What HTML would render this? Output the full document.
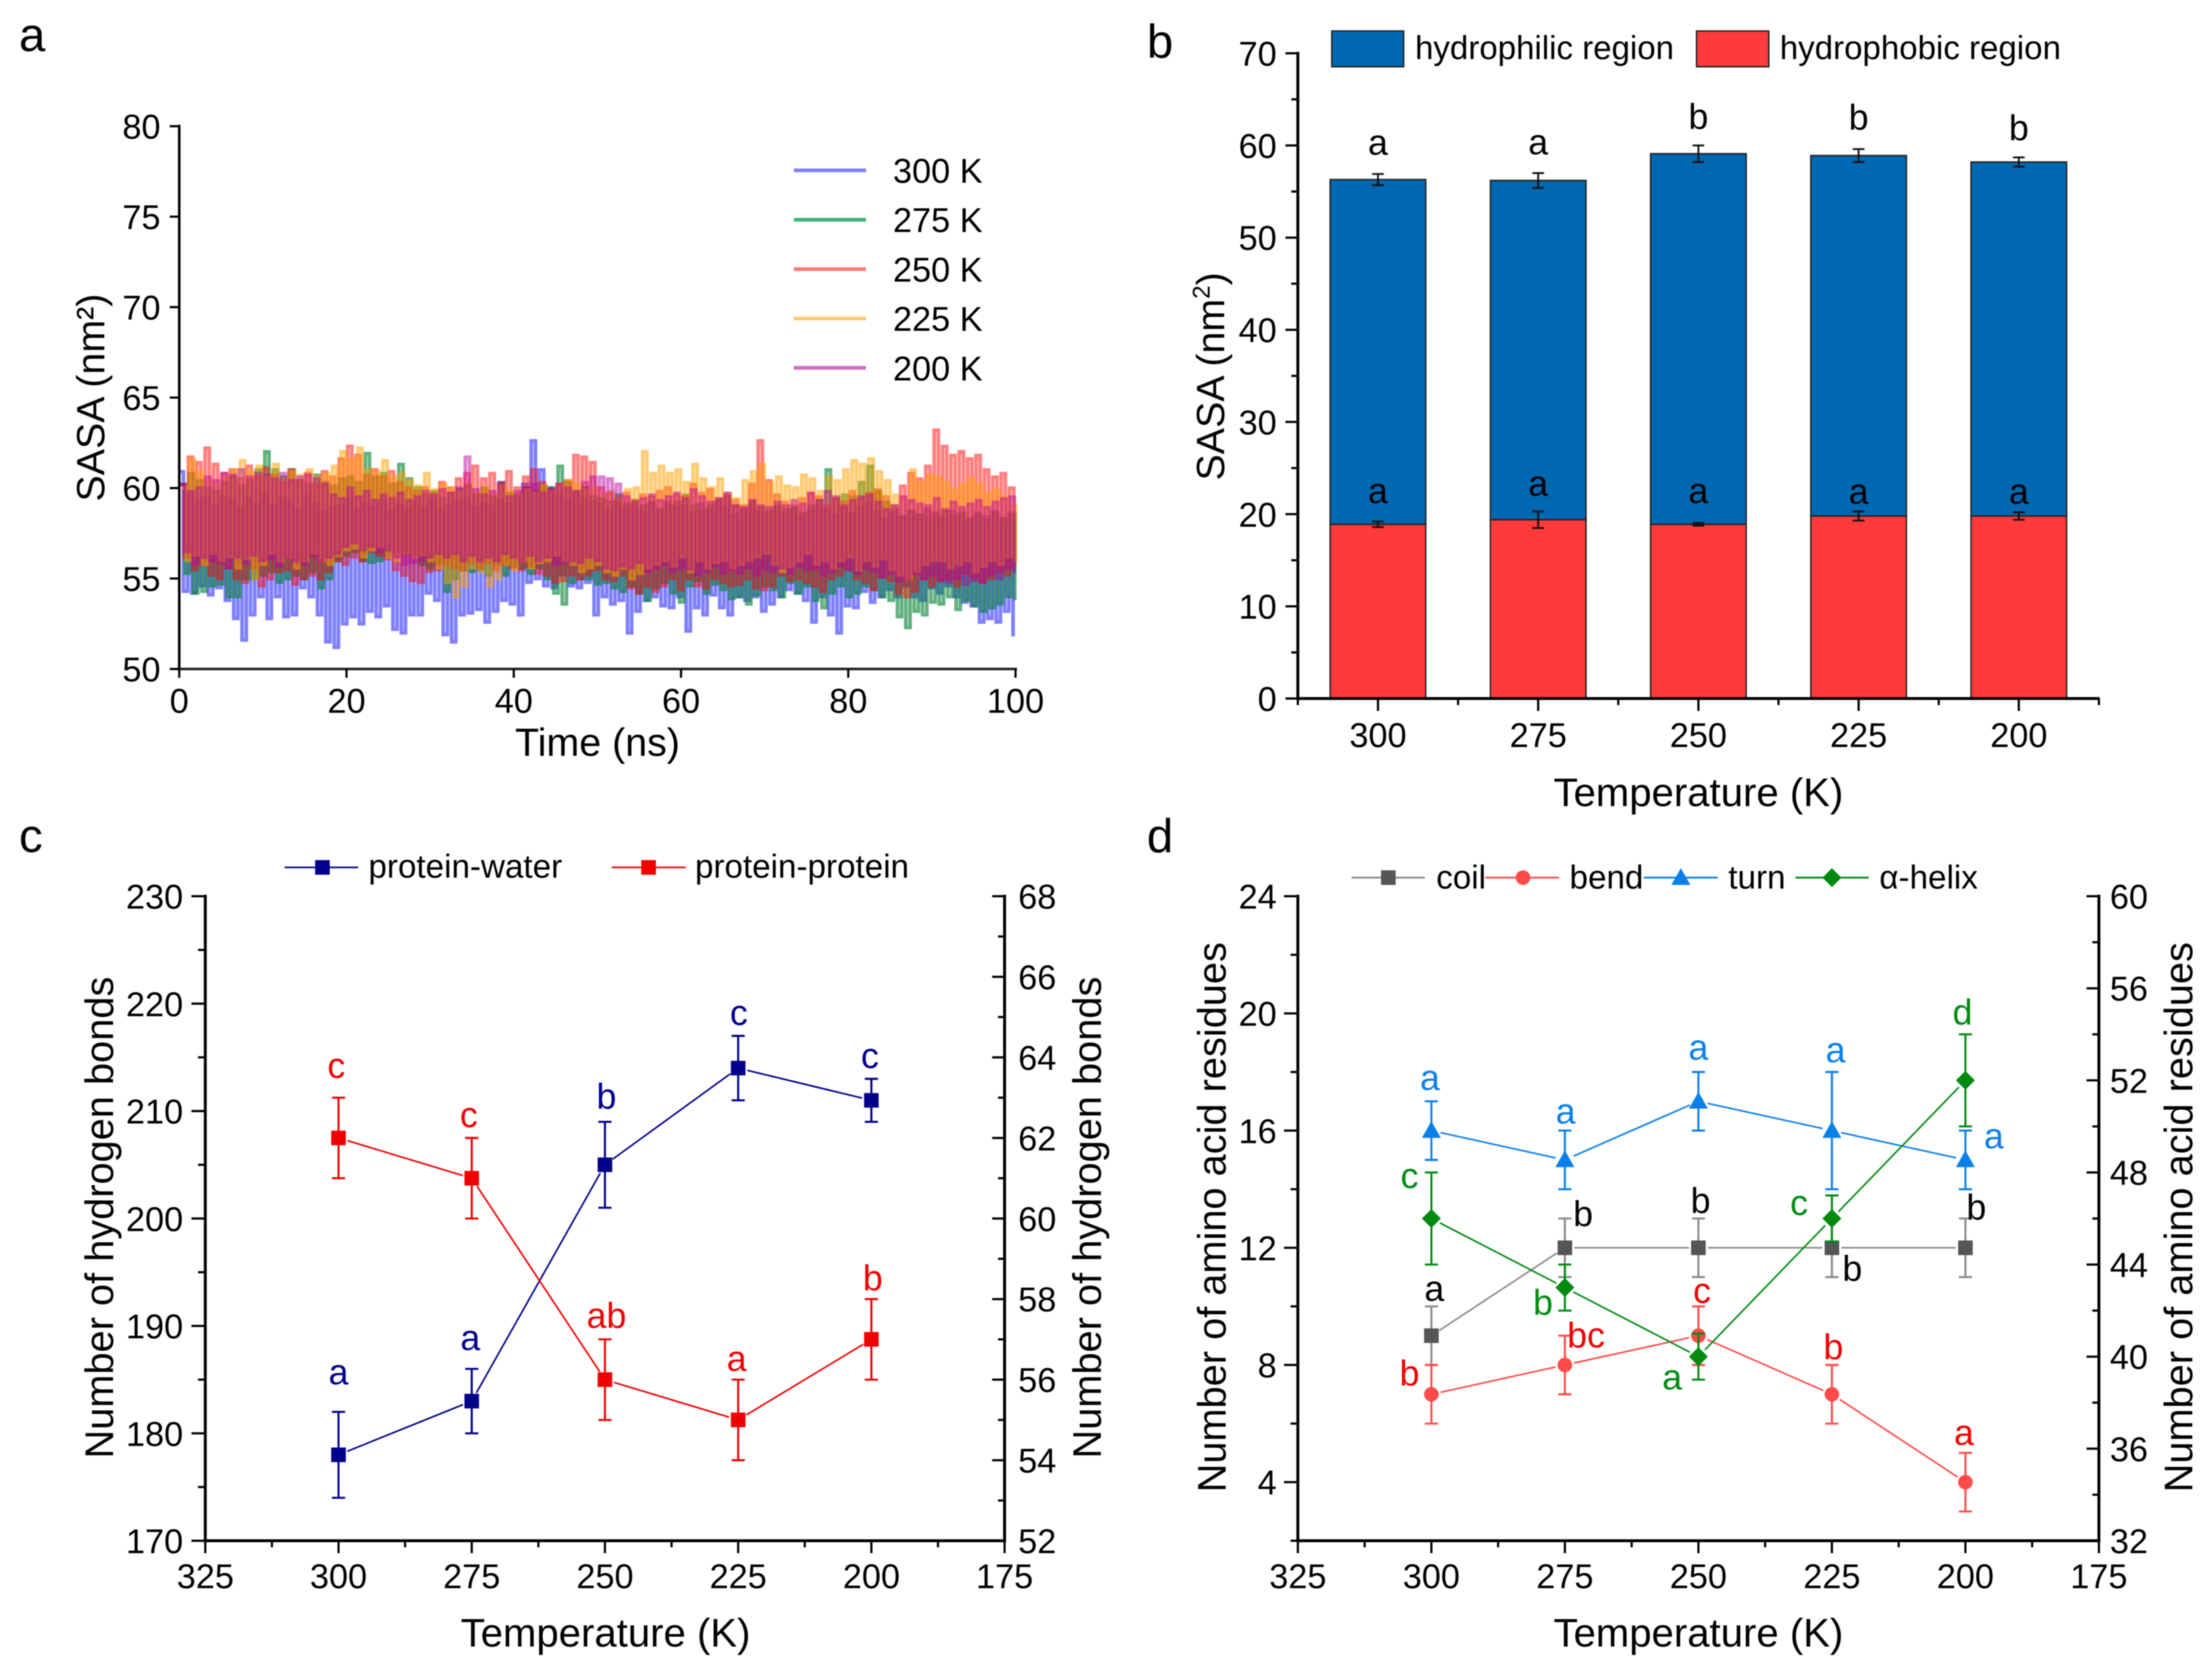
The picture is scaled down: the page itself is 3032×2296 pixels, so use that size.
<!DOCTYPE html>
<html lang="en">
<head>
<meta charset="utf-8">
<title>SASA, hydrogen bonds and amino acid residues by temperature</title>
<style>
html,body{margin:0;padding:0;background:#fff;}
svg{display:block;filter:blur(0.7px);}
text{font-family:"Liberation Sans",Arial,sans-serif;fill:#000;}
</style>
</head>
<body>
<svg id="figure" xmlns="http://www.w3.org/2000/svg" width="3032" height="2296" viewBox="0 0 3032 2296">
<rect x="0" y="0" width="3032" height="2296" fill="#fff"/>
<text x="26" y="70" font-size="65">a</text>
<text x="1572" y="79" font-size="65">b</text>
<text x="26" y="1168" font-size="65">c</text>
<text x="1572" y="1168" font-size="65">d</text>
<g id="panel-a"></g>
<g id="panel-b"></g>
<g id="panel-c"></g>
<g id="panel-d"></g>
</svg>
<script>
/* ---------- panel a data: alternating high, low readings, two per nanosecond ---------- */
const sasaTimeTicks = [0, 20, 40, 60, 80, 100];
const sasaValueTicks = [50, 55, 60, 65, 70, 75, 80];
const sasaSeriesNames = ['300 K', '275 K', '250 K', '225 K', '200 K'];
const sasa300 = [
60.9,54.3,59.6,54.2,59.2,54.6,59.4,54.1,59.0,54.5,59.5,53.8,59.3,52.8,58.9,51.6,59.4,53.0,59.1,54.0,
59.6,52.8,59.0,54.0,59.4,52.9,59.2,53.0,58.8,54.5,59.5,54.0,59.1,53.0,58.7,51.5,58.9,51.2,59.0,52.5,
59.4,52.9,58.8,52.5,59.1,53.2,58.9,52.9,59.3,53.5,58.7,52.2,59.0,52.0,58.8,53.0,59.2,53.0,58.9,54.2,
59.3,53.8,58.8,51.9,59.0,51.5,59.2,53.0,59.4,53.1,58.9,53.3,59.1,52.6,59.0,53.2,59.3,53.8,59.1,53.6,
59.5,53.0,60.2,54.8,62.6,55.0,61.0,54.6,60.0,54.5,59.6,55.2,59.3,54.6,59.7,54.5,59.4,54.8,59.2,53.0,
59.1,54.0,58.8,53.6,59.2,53.8,58.9,52.0,59.0,53.2,58.7,53.8,59.1,54.0,58.8,53.5,59.2,53.4,58.9,54.0,
59.0,52.1,58.6,53.4,59.1,53.0,58.8,54.1,59.2,53.4,58.9,53.0,58.5,54.0,58.8,53.8,59.0,54.0,58.7,53.2,
58.5,53.6,58.9,54.0,58.6,54.4,58.8,54.2,58.4,53.8,58.7,52.6,59.0,54.0,58.8,53.0,58.5,52.0,58.9,53.5,
58.6,53.4,58.9,54.3,59.1,53.7,58.7,54.0,58.3,54.4,58.6,54.0,58.4,54.6,58.7,54.0,58.5,53.8,58.8,54.5,
58.6,54.2,58.3,54.6,58.7,54.0,58.5,53.7,58.2,53.5,58.6,52.6,58.4,52.8,58.7,52.6,58.3,53.2,58.6,51.8];
const sasa275 = [
60.2,55.3,60.8,54.2,60.4,54.3,60.0,54.6,59.8,54.7,60.3,54.0,60.6,54.0,60.1,55.0,60.4,55.0,61.0,55.2,
62.0,55.4,61.0,54.8,60.6,55.0,61.0,55.2,60.4,55.0,60.2,55.4,60.7,54.5,60.3,55.0,60.1,56.0,60.5,56.3,
60.6,56.5,60.3,56.0,61.9,55.9,60.6,56.0,60.8,56.3,60.2,56.5,61.3,56.4,60.5,56.3,60.0,55.8,59.6,55.6,
59.8,55.8,59.4,54.3,59.7,55.0,59.9,55.5,60.1,55.4,59.6,55.5,60.0,55.2,59.5,55.8,60.3,55.2,59.7,55.7,
59.6,55.6,60.0,55.3,59.8,55.6,60.1,55.0,60.0,54.2,61.2,53.6,60.3,54.8,59.8,55.0,60.0,55.0,59.5,54.7,
59.4,54.8,59.2,54.5,59.6,54.3,59.1,54.6,59.3,54.2,59.0,53.8,59.2,54.5,58.8,54.8,59.0,54.2,59.2,53.7,
59.6,54.6,59.0,54.9,58.7,54.2,59.0,54.7,59.3,54.4,59.5,53.9,59.0,54.0,58.8,53.6,59.2,54.1,58.9,54.6,
58.7,54.4,59.0,54.0,58.8,54.8,58.9,54.2,58.6,54.6,59.0,53.8,59.3,53.4,61.0,54.2,59.4,54.6,59.6,54.0,
59.5,54.2,60.3,54.6,61.2,54.4,59.8,54.0,59.2,53.8,58.8,52.9,58.4,52.3,58.7,53.2,58.5,53.0,58.3,53.7,
58.5,53.6,58.7,54.0,58.4,53.3,58.6,53.8,58.3,53.5,58.5,53.2,58.2,53.4,58.6,53.6,58.3,54.0,58.5,53.8];
const sasa250 = [
60.2,56.2,61.7,55.5,61.4,55.8,62.2,55.2,61.3,55.0,60.8,55.6,61.0,55.0,60.5,54.8,61.2,55.6,60.6,54.6,
61.1,55.0,60.7,55.4,60.3,55.5,61.0,54.7,60.4,55.0,60.8,55.2,60.2,55.0,60.9,55.4,60.6,56.0,61.6,55.8,
62.3,56.2,61.8,56.0,60.7,56.5,61.0,56.3,60.6,56.1,60.9,55.5,60.3,55.2,60.0,54.9,59.8,54.8,60.0,55.4,
59.7,55.5,60.3,55.8,60.0,55.6,60.5,55.5,60.8,55.9,61.2,55.6,60.5,55.9,60.8,55.5,60.2,55.8,60.9,55.6,
60.0,55.5,60.6,55.7,61.0,55.3,60.3,55.2,59.9,54.8,60.2,54.9,60.4,55.2,61.8,55.0,61.7,55.2,61.4,55.5,
60.0,55.0,59.7,54.9,59.4,55.2,59.7,54.5,59.3,54.2,59.6,54.6,59.5,54.3,59.8,54.6,60.0,55.0,59.6,54.4,
59.5,55.0,60.2,54.6,59.7,54.5,59.9,55.0,59.4,54.8,59.6,54.6,59.3,54.7,59.0,55.0,60.2,54.5,62.6,54.4,
60.4,54.6,59.6,55.2,59.2,54.9,59.0,55.0,59.4,54.8,59.7,54.6,59.5,54.3,59.0,55.0,59.4,55.2,59.2,55.5,
59.8,55.0,59.4,54.8,59.7,54.4,59.9,55.1,59.5,54.9,59.0,54.2,60.1,54.0,60.8,54.3,60.5,55.0,61.2,54.6,
63.2,54.9,62.3,55.0,61.8,54.6,62.0,55.3,61.6,55.1,61.8,54.8,61.0,55.0,60.6,55.4,60.8,55.2,60.0,55.5];
const sasa225 = [
60.0,56.0,61.6,56.3,60.8,55.8,60.4,56.4,60.2,56.0,60.6,56.2,61.0,55.6,61.5,56.1,60.9,55.0,61.2,55.8,
60.6,56.4,61.3,56.0,60.5,56.2,60.9,55.6,60.7,56.0,61.0,56.4,60.6,56.0,60.8,55.8,61.2,56.3,62.0,56.6,
61.6,56.7,62.2,56.2,61.0,56.6,60.9,56.8,61.5,56.2,60.6,56.0,60.8,56.4,60.4,56.2,60.1,56.3,60.8,56.0,
59.9,55.6,60.2,54.8,60.0,54.0,59.8,54.6,60.2,55.6,59.7,55.4,60.0,54.6,59.6,55.0,60.1,55.8,59.8,55.5,
59.6,56.0,59.9,55.6,59.7,55.9,60.1,56.0,59.8,56.3,60.2,56.0,60.4,55.8,60.2,55.4,59.9,55.6,60.0,55.8,
59.6,55.4,59.8,55.2,59.4,55.6,59.9,55.0,60.0,55.3,62.0,55.6,60.8,55.8,61.2,56.0,60.8,55.7,61.0,56.2,
60.3,55.4,61.3,56.0,60.5,55.6,60.0,55.9,60.5,56.0,59.7,55.6,59.4,55.8,60.4,56.0,60.9,56.2,61.3,56.4,
60.3,55.8,60.6,55.4,60.1,55.7,60.0,56.0,60.7,56.4,60.5,55.8,59.8,56.0,60.6,55.6,60.4,56.0,61.0,56.2,
61.5,55.5,61.3,56.0,61.6,55.7,60.9,56.1,60.4,55.5,59.6,55.2,59.4,55.0,61.0,55.4,60.3,55.8,60.7,56.0,
60.6,56.0,60.3,55.6,59.9,55.8,60.2,56.0,60.5,55.4,60.2,55.7,59.7,56.0,59.9,55.8,59.5,56.2,59.0,55.9];
const sasa200 = [
60.2,56.5,59.8,55.8,60.0,56.2,60.6,56.0,60.4,55.9,60.8,55.6,60.7,56.2,61.0,55.9,60.6,56.3,60.8,56.0,
60.7,56.1,60.5,55.7,60.8,56.2,60.4,56.0,60.6,55.8,60.7,56.3,60.5,56.0,60.2,56.2,59.6,56.4,59.4,56.8,
60.0,57.0,59.5,56.6,59.8,56.8,59.3,56.5,59.6,56.6,59.4,56.2,59.7,55.8,59.3,55.9,59.5,56.0,59.8,56.2,
59.6,56.4,59.9,56.2,59.7,56.4,60.0,56.0,61.7,56.3,59.9,56.0,59.6,56.2,59.8,56.0,60.3,56.4,59.5,56.2,
59.8,56.0,60.0,56.3,60.2,56.0,59.7,56.2,59.9,55.8,60.2,55.9,60.0,56.0,59.8,55.9,60.3,56.2,60.6,56.0,
60.6,55.6,60.5,55.5,60.2,55.7,59.5,55.6,59.2,55.9,59.4,55.4,59.6,55.6,59.3,55.8,59.5,55.4,59.7,55.6,
59.4,55.5,59.9,55.2,59.5,55.4,59.2,55.7,59.4,55.3,59.7,55.5,59.0,55.3,58.9,55.6,59.3,55.2,59.0,55.5,
58.9,55.4,59.2,55.6,59.0,55.3,59.3,55.7,59.1,55.5,59.7,55.6,59.3,55.2,59.8,55.4,59.5,55.7,59.0,55.5,
59.3,55.3,59.5,55.6,59.6,55.4,59.2,55.1,58.8,55.3,59.0,54.9,59.5,55.0,59.3,55.3,59.1,55.0,59.0,55.2,
59.4,54.9,58.8,54.8,59.2,55.0,58.9,54.7,59.1,54.9,59.3,54.8,58.9,55.2,59.2,55.0,59.4,55.6,59.5,55.3];

/* ---------- panel b data ---------- */
const barCategories = ['300', '275', '250', '225', '200'];
const barValueTicks = [0, 10, 20, 30, 40, 50, 60, 70];
const barMinorTicks = [5, 15, 25, 35, 45, 55, 65];
const hydrophobicValues = [18.9, 19.4, 18.9, 19.8, 19.8];
const hydrophobicErrors = [0.3, 0.9, 0.15, 0.5, 0.4];
const hydrophilicValues = [37.4, 36.8, 40.2, 39.1, 38.4];
const totalErrors = [0.6, 0.8, 0.9, 0.7, 0.5];
const hydrophilicLetters = ['a', 'a', 'b', 'b', 'b'];
const hydrophobicLetters = ['a', 'a', 'a', 'a', 'a'];

/* ---------- panel c data ---------- */
const temperatures = [300, 275, 250, 225, 200];
const temperatureTicks = [325, 300, 275, 250, 225, 200, 175];
const temperatureMinorTicks = [312.5, 287.5, 262.5, 237.5, 212.5, 187.5];
const bondLeftTicks = [170, 180, 190, 200, 210, 220, 230];
const bondLeftMinorTicks = [175, 185, 195, 205, 215, 225];
const bondRightTicks = [52, 54, 56, 58, 60, 62, 64, 66, 68];
const bondRightMinorTicks = [53, 55, 57, 59, 61, 63, 65, 67];
const proteinWater = [178, 183, 205, 214, 211];
const proteinWaterErr = [4, 3, 4, 3, 2];
const proteinWaterLetters = ['a', 'a', 'b', 'c', 'c'];
const proteinProtein = [62, 61, 56, 55, 57];
const proteinProteinErr = [1, 1, 1, 1, 1];
const proteinProteinLetters = ['c', 'c', 'ab', 'a', 'b'];

/* ---------- panel d data ---------- */
const residueLeftTicks = [4, 8, 12, 16, 20, 24];
const residueLeftMinorTicks = [2, 6, 10, 14, 18, 22];
const residueRightTicks = [32, 36, 40, 44, 48, 52, 56, 60];
const residueRightMinorTicks = [34, 38, 42, 46, 50, 54, 58];
const coilValues = [9, 12, 12, 12, 12];
const coilErr = [1, 1, 1, 1, 1];
const coilLetters = ['a', 'b', 'b', 'b', 'b'];
const bendValues = [7, 8, 9, 7, 4];
const bendErr = [1, 1, 1, 1, 1];
const bendLetters = ['b', 'bc', 'c', 'b', 'a'];
const turnValues = [16, 15, 17, 16, 15];
const turnErr = [1, 1, 1, 2, 1];
const turnLetters = ['a', 'a', 'a', 'a', 'a'];
const helixValues = [46, 43, 40, 46, 52];
const helixErr = [2, 1, 1, 1, 2];
const helixLetters = ['c', 'b', 'a', 'c', 'd'];

/* ---------- axis functions ---------- */
const aX = v => 245.7 + (v / 100) * (1392 - 245.7);
const aY = v => 917 - ((v - 50) / 30) * (917 - 173);
const bX = i => 1779 + (i + 0.5) * (2877 - 1779) / 5;
const bEdge = i => 1779 + i * (2877 - 1779) / 5;
const bY = v => 957.5 - (v / 70) * (957.5 - 73);
const cX = t => 281.4 + ((325 - t) / 150) * (1377 - 281.4);
const cYL = v => 2112 - ((v - 170) / 60) * (2112 - 1228.5);
const cYR = v => 2112 - ((v - 52) / 16) * (2112 - 1228.5);
const dX = t => 1779 + ((325 - t) / 150) * (2877 - 1779);
const dYL = v => 2112 - ((v - 2) / 22) * (2112 - 1228.5);
const dYR = v => 2112 - ((v - 32) / 28) * (2112 - 1228.5);

/* ---------- type sizes ---------- */
const tickSize = 47;
const titleSize = 54.5;
const temperatureTitleSize = 55;
const letterSize = 49;

/* ---------- drawing helpers ---------- */
const NS = 'http://www.w3.org/2000/svg';
function addLine(parent, x1, y1, x2, y2, color, width, name) {
  const el = document.createElementNS(NS, 'line');
  el.setAttribute('x1', x1);
  el.setAttribute('y1', y1);
  el.setAttribute('x2', x2);
  el.setAttribute('y2', y2);
  el.setAttribute('stroke', color);
  el.setAttribute('stroke-width', width);
  
  
  parent.appendChild(el);
  return el;
}
function addText(parent, x, y, str, size, anchor, color, name, rotate) {
  const el = document.createElementNS(NS, 'text');
  el.setAttribute('font-size', size);
  el.setAttribute('text-anchor', anchor);
  el.setAttribute('style', 'fill:' + color);
  if (rotate) {
    el.setAttribute('transform', 'translate(' + x + ',' + y + ') rotate(-90)');
  } else {
    el.setAttribute('x', x);
    el.setAttribute('y', y);
  }
  el.textContent = str;
  
  
  parent.appendChild(el);
  return el;
}
function addRect(parent, x, y, w, h, fill, name) {
  const el = document.createElementNS(NS, 'rect');
  el.setAttribute('x', x);
  el.setAttribute('y', y);
  el.setAttribute('width', w);
  el.setAttribute('height', h);
  el.setAttribute('fill', fill);
  el.setAttribute('stroke', '#222');
  el.setAttribute('stroke-width', 2);
  
  
  parent.appendChild(el);
  return el;
}
function addMarker(parent, shape, x, y, color, name) {
  let el;
  if (shape === 'circle') {
    el = document.createElementNS(NS, 'circle');
    el.setAttribute('cx', x);
    el.setAttribute('cy', y);
    el.setAttribute('r', 10);
  } else if (shape === 'square') {
    el = document.createElementNS(NS, 'rect');
    el.setAttribute('x', x - 10);
    el.setAttribute('y', y - 10);
    el.setAttribute('width', 20);
    el.setAttribute('height', 20);
  } else if (shape === 'triangle') {
    el = document.createElementNS(NS, 'polygon');
    el.setAttribute('points', (x - 13) + ',' + (y + 10) + ' ' + (x + 13) + ',' + (y + 10) + ' ' + x + ',' + (y - 13));
  } else {
    el = document.createElementNS(NS, 'polygon');
    el.setAttribute('points', (x - 13) + ',' + y + ' ' + x + ',' + (y - 13) + ' ' + (x + 13) + ',' + y + ' ' + x + ',' + (y + 13));
  }
  el.setAttribute('fill', color);
  
  
  parent.appendChild(el);
  return el;
}
function addErrorBar(parent, x, yLow, yHigh, color, capHalf, width, name) {
  addLine(parent, x, yLow, x, yHigh, color, width, name + '-stem');
  addLine(parent, x - capHalf, yLow, x + capHalf, yLow, color, width, name + '-cap-low');
  addLine(parent, x - capHalf, yHigh, x + capHalf, yHigh, color, width, name + '-cap-high');
}
function addConnector(parent, x1, y1, x2, y2, color, name) {
  const len = Math.hypot(x2 - x1, y2 - y1);
  const ux = (x2 - x1) / len;
  const uy = (y2 - y1) / len;
  addLine(parent, x1 + ux * 13, y1 + uy * 13, x2 - ux * 13, y2 - uy * 13, color, 2.2, name);
}

/* ---------- panel a ---------- */
const pa = document.getElementById('panel-a');
const sasaSeries = [sasa300, sasa275, sasa250, sasa225, sasa200];
const sasaColors = ['#0000ff', '#008030', '#ff0000', '#ffa000', '#b800a0'];
const sasaOpacity = [0.5, 0.62, 0.5, 0.55, 0.5];
const sasaPhase = [0, 0.21, 0.09, 0.31, 0.15];
const sasaLegendColors = ['#7d7dff', '#3cb371', '#ff7878', '#ffc870', '#c870c8'];
sasaSeries.forEach((vals, s) => {
  let d = '';
  vals.forEach((v, i) => {
    const t = Math.min(100, (i / (vals.length - 1) * 99.7) + sasaPhase[s]);
    if (i === 0) {
      d += 'M' + aX(t).toFixed(1) + ' ' + aY(v).toFixed(1);
    } else {
      d += 'H' + aX(t).toFixed(1) + 'V' + aY(v).toFixed(1);
    }
  });
  const el = document.createElementNS(NS, 'path');
  el.setAttribute('d', d);
  el.setAttribute('fill', 'none');
  el.setAttribute('stroke', sasaColors[s]);
  el.setAttribute('stroke-width', 5);
  el.setAttribute('stroke-linejoin', 'miter');
  el.setAttribute('opacity', sasaOpacity[s]);
  
  
  pa.appendChild(el);
});
addLine(pa, aX(0), aY(80) - 2, aX(0), aY(50) + 2, '#000', 3.5, 'y-axis-line');
addLine(pa, aX(0) - 2, aY(50), aX(100) + 2, aY(50), '#222', 3.5, 'x-axis-line');
sasaValueTicks.forEach(v => {
  addLine(pa, aX(0) - 13, aY(v), aX(0), aY(v), '#000', 3, 'y-tick');
  addText(pa, 220, aY(v) + 17, String(v), tickSize, 'end', '#000', 'y-tick-label');
});
sasaTimeTicks.forEach(v => {
  addLine(pa, aX(v), aY(50), aX(v), aY(50) + 12, '#000', 3, 'x-tick');
  addText(pa, aX(v), 977, String(v), tickSize, 'middle', '#000', 'x-tick-label');
});
addText(pa, 819, 1036, 'Time (ns)', 54, 'middle', '#000', 'x-axis-title');
addText(pa, 143, 545, 'SASA (nm²)', 54, 'middle', '#000', 'y-axis-title', true);
sasaSeriesNames.forEach((name, s) => {
  const y = 233.5 + s * 67.7;
  addLine(pa, 1088, y, 1187, y, sasaLegendColors[s], 5, 'legend-line');
  addText(pa, 1224, y + 17, name, 47, 'start', '#000', 'legend-label');
});

/* ---------- panel b ---------- */
const pb = document.getElementById('panel-b');
const barWidth = 131;
const barBlue = '#0068b0';
const barRed = '#ff3a3a';
const barLetterShift = [-34, -36, -34, -36, -30];
const lowLetterShift = [-29, -33, -29, -17, -17];
barCategories.forEach((c, i) => {
  const x = bX(i) - barWidth / 2;
  const low = hydrophobicValues[i];
  const top = low + hydrophilicValues[i];
  addRect(pb, x, bY(low), barWidth, bY(0) - bY(low), barRed, 'hydrophobic-bar-' + c);
  addRect(pb, x, bY(top), barWidth, bY(low) - bY(top), barBlue, 'hydrophilic-bar-' + c);
  addErrorBar(pb, bX(i), bY(top - totalErrors[i]), bY(top + totalErrors[i]), '#111', 8, 2.5, 'total-error-bar');
  addErrorBar(pb, bX(i), bY(low - hydrophobicErrors[i]), bY(low + hydrophobicErrors[i]), '#111', 8, 2.5, 'hydrophobic-error-bar');
  addText(pb, bX(i), bY(top) + barLetterShift[i], hydrophilicLetters[i], letterSize, 'middle', '#000', 'hydrophilic-significance-letter');
  addText(pb, bX(i), bY(low) + lowLetterShift[i], hydrophobicLetters[i], letterSize, 'middle', '#000', 'hydrophobic-significance-letter');
  addLine(pb, bX(i), bY(0), bX(i), bY(0) + 17, '#000', 3, 'x-tick');
  addText(pb, bX(i), 1024, c, tickSize, 'middle', '#000', 'x-tick-label');
});
for (let i = 0; i <= barCategories.length; i++) {
  addLine(pb, bEdge(i), bY(0), bEdge(i), bY(0) + 9, '#000', 3, 'x-minor-tick');
}
addLine(pb, 1779, bY(70) - 2, 1779, bY(0) + 2, '#000', 4, 'y-axis-line');
addLine(pb, 1777, bY(0), 2878, bY(0), '#000', 4, 'x-axis-line');
barValueTicks.forEach(v => {
  addLine(pb, 1762, bY(v), 1779, bY(v), '#000', 3, 'y-tick');
  addText(pb, 1750, bY(v) + 17, String(v), tickSize, 'end', '#000', 'y-tick-label');
});
barMinorTicks.forEach(v => {
  addLine(pb, 1770, bY(v), 1779, bY(v), '#000', 3, 'y-minor-tick');
});
addText(pb, 2328, 1105, 'Temperature (K)', temperatureTitleSize, 'middle', '#000', 'x-axis-title');
const bTitle = addText(pb, 1678, 516, 'SASA (nm', 54, 'middle', '#000', 'y-axis-title', true);
const bSup = document.createElementNS(NS, 'tspan');
bSup.setAttribute('font-size', 33);
bSup.setAttribute('dy', -20);
bSup.textContent = '2';


bTitle.appendChild(bSup);
const bClose = document.createElementNS(NS, 'tspan');
bClose.setAttribute('dy', 20);
bClose.textContent = ')';


bTitle.appendChild(bClose);
addRect(pb, 1825.5, 42.5, 98.5, 49, barBlue, 'legend-swatch-hydrophilic');
addText(pb, 1939.6, 81, 'hydrophilic region', 45.3, 'start', '#000', 'legend-label-hydrophilic');
addRect(pb, 2325.5, 42.5, 99, 49, barRed, 'legend-swatch-hydrophobic');
addText(pb, 2439.6, 81, 'hydrophobic region', 45.3, 'start', '#000', 'legend-label-hydrophobic');

/* ---------- shared frame for panels c and d ---------- */
function drawFrame(parent, xFn, left, right, yLeft, yRight, leftTicks, leftMinor, rightTicks, rightMinor, leftEdge, rightEdge) {
  addLine(parent, left, 1226.5, left, 2114, '#000', 4, 'left-y-axis-line');
  addLine(parent, right, 1226.5, right, 2114, '#000', 4, 'right-y-axis-line');
  addLine(parent, left - 2, 2112, right + 2, 2112, '#000', 4, 'x-axis-line');
  leftTicks.forEach(v => {
    addLine(parent, left - 19, yLeft(v), left, yLeft(v), '#000', 3, 'left-y-tick');
    addText(parent, leftEdge, yLeft(v) + 17, String(v), tickSize, 'end', '#000', 'left-y-tick-label');
  });
  leftMinor.forEach(v => {
    addLine(parent, left - 10, yLeft(v), left, yLeft(v), '#000', 3, 'left-y-minor-tick');
  });
  rightTicks.forEach(v => {
    addLine(parent, right - 17, yRight(v), right, yRight(v), '#000', 3, 'right-y-tick');
    addText(parent, rightEdge, yRight(v) + 17, String(v), tickSize, 'start', '#000', 'right-y-tick-label');
  });
  rightMinor.forEach(v => {
    addLine(parent, right - 9, yRight(v), right, yRight(v), '#000', 3, 'right-y-minor-tick');
  });
  temperatureTicks.forEach(t => {
    addLine(parent, xFn(t), 2112, xFn(t), 2129, '#000', 3, 'x-tick');
    addText(parent, xFn(t), 2177, String(t), tickSize, 'middle', '#000', 'x-tick-label');
  });
  temperatureMinorTicks.forEach(t => {
    addLine(parent, xFn(t), 2112, xFn(t), 2121, '#000', 3, 'x-minor-tick');
  });
}
function drawSeries(parent, xFn, yFn, vals, errs, color, errColor, shape, name) {
  temperatures.forEach((t, i) => {
    addErrorBar(parent, xFn(t), yFn(vals[i] - errs[i]), yFn(vals[i] + errs[i]), errColor, 9, 2.8, name + '-error-bar');
  });
  for (let i = 0; i + 1 < temperatures.length; i++) {
    addConnector(parent, xFn(temperatures[i]), yFn(vals[i]), xFn(temperatures[i + 1]), yFn(vals[i + 1]), errColor, name + '-line');
  }
  temperatures.forEach((t, i) => {
    addMarker(parent, shape, xFn(t), yFn(vals[i]), color, name + '-point');
  });
}

/* ---------- panel c ---------- */
const pc = document.getElementById('panel-c');
const navy = '#00008b';
const pureRed = '#f00000';
drawFrame(pc, cX, 281.4, 1377, cYL, cYR, bondLeftTicks, bondLeftMinorTicks, bondRightTicks, bondRightMinorTicks, 251, 1395.6);
drawSeries(pc, cX, cYL, proteinWater, proteinWaterErr, navy, navy, 'square', 'protein-water');
drawSeries(pc, cX, cYR, proteinProtein, proteinProteinErr, pureRed, pureRed, 'square', 'protein-protein');
const waterLetterDx = [0, -2, 2, 1, -2];
const waterLetterGap = [38, 26, 18, 15, 15];
const proteinLetterDx = [-3, -4, 2, -2, 2];
const proteinLetterGap = [27, 15, 16, 12, 12];
temperatures.forEach((t, i) => {
  addText(pc, cX(t) + waterLetterDx[i], cYL(proteinWater[i] + proteinWaterErr[i]) - waterLetterGap[i], proteinWaterLetters[i], letterSize, 'middle', navy, 'protein-water-significance-letter');
  addText(pc, cX(t) + proteinLetterDx[i], cYR(proteinProtein[i] + proteinProteinErr[i]) - proteinLetterGap[i], proteinProteinLetters[i], letterSize, 'middle', pureRed, 'protein-protein-significance-letter');
});
addText(pc, 830, 2257, 'Temperature (K)', temperatureTitleSize, 'middle', '#000', 'x-axis-title');
addText(pc, 155, 1669, 'Number of hydrogen bonds', titleSize, 'middle', '#000', 'left-y-axis-title', true);
addText(pc, 1509, 1669, 'Number of hydrogen bonds', titleSize, 'middle', '#000', 'right-y-axis-title', true);
addLine(pc, 390, 1189, 491, 1189, navy, 2.2, 'legend-line-protein-water');
addMarker(pc, 'square', 442, 1189, navy, 'legend-marker-protein-water');
addText(pc, 505, 1203, 'protein-water', 45.5, 'start', '#000', 'legend-label-protein-water');
addLine(pc, 838.5, 1189, 940, 1189, pureRed, 2.2, 'legend-line-protein-protein');
addMarker(pc, 'square', 889, 1189, pureRed, 'legend-marker-protein-protein');
addText(pc, 952.6, 1203, 'protein-protein', 45.5, 'start', '#000', 'legend-label-protein-protein');

/* ---------- panel d ---------- */
const pd = document.getElementById('panel-d');
const coilColor = '#555555';
const coilLineColor = '#8a8a8a';
const bendColor = '#ff4a4a';
const turnColor = '#0a7fe8';
const helixColor = '#008a10';
drawFrame(pd, dX, 1779, 2877, dYL, dYR, residueLeftTicks, residueLeftMinorTicks, residueRightTicks, residueRightMinorTicks, 1750, 2892);
drawSeries(pd, dX, dYL, coilValues, coilErr, coilColor, coilLineColor, 'square', 'coil');
drawSeries(pd, dX, dYL, bendValues, bendErr, bendColor, bendColor, 'circle', 'bend');
drawSeries(pd, dX, dYL, turnValues, turnErr, turnColor, turnColor, 'triangle', 'turn');
drawSeries(pd, dX, dYR, helixValues, helixErr, helixColor, helixColor, 'diamond', 'alpha-helix');
const turnLetterDx = [-2, 1, 0, 5, 39];
const turnLetterDy = [-56, -50, -57, -94, -16];
const coilLetterDx = [4, 25, 3, 28, 15];
const coilLetterDy = [-48, -30, -48, 45, -39];
const bendLetterDx = [-30, 29, 5, 2, -2];
const bendLetterDy = [-12, -24, -45, -48, -51];
const helixLetterDx = [-30, -30, -36, -45, -4];
const helixLetterDy = [-42, 37, 45, -5, -77];
temperatures.forEach((t, i) => {
  addText(pd, dX(t) + turnLetterDx[i], dYL(turnValues[i]) + turnLetterDy[i], turnLetters[i], letterSize, 'middle', turnColor, 'turn-significance-letter');
  addText(pd, dX(t) + coilLetterDx[i], dYL(coilValues[i]) + coilLetterDy[i], coilLetters[i], letterSize, 'middle', '#000', 'coil-significance-letter');
  addText(pd, dX(t) + bendLetterDx[i], dYL(bendValues[i]) + bendLetterDy[i], bendLetters[i], letterSize, 'middle', '#f00000', 'bend-significance-letter');
  addText(pd, dX(t) + helixLetterDx[i], dYR(helixValues[i]) + helixLetterDy[i], helixLetters[i], letterSize, 'middle', helixColor, 'helix-significance-letter');
});
addText(pd, 2328, 2257, 'Temperature (K)', temperatureTitleSize, 'middle', '#000', 'x-axis-title');
addText(pd, 1680, 1668.5, 'Number of amino acid residues', titleSize, 'middle', '#000', 'left-y-axis-title', true);
addText(pd, 3005, 1668.5, 'Number of amino acid residues', titleSize, 'middle', '#000', 'right-y-axis-title', true);
addLine(pd, 1852.5, 1203, 1953, 1203, coilLineColor, 2.5, 'legend-line-coil');
addMarker(pd, 'square', 1903, 1203, coilColor, 'legend-marker-coil');
addText(pd, 1968.6, 1218, 'coil', 45.5, 'start', '#000', 'legend-label-coil');
addLine(pd, 2036, 1203, 2137, 1203, bendColor, 2.5, 'legend-line-bend');
addMarker(pd, 'circle', 2087.6, 1203, bendColor, 'legend-marker-bend');
addText(pd, 2151.4, 1218, 'bend', 45.5, 'start', '#000', 'legend-label-bend');
addLine(pd, 2253, 1203, 2354.5, 1203, turnColor, 2.5, 'legend-line-turn');
addMarker(pd, 'triangle', 2304, 1203, turnColor, 'legend-marker-turn');
addText(pd, 2369, 1218, 'turn', 45.5, 'start', '#000', 'legend-label-turn');
addLine(pd, 2461, 1203, 2561.5, 1203, helixColor, 2.5, 'legend-line-helix');
addMarker(pd, 'diamond', 2511, 1203, helixColor, 'legend-marker-helix');
addText(pd, 2576, 1218, 'α-helix', 45.5, 'start', '#000', 'legend-label-helix');
</script>
</body>
</html>
